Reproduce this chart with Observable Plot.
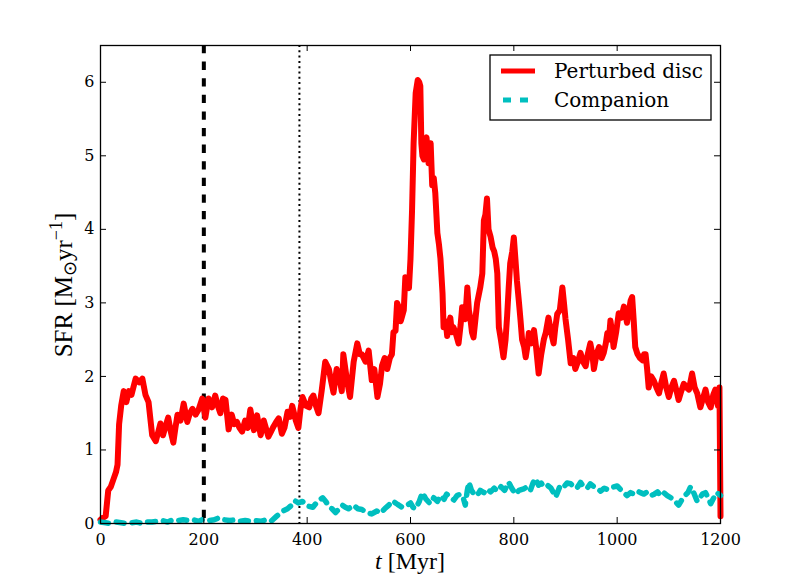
<!DOCTYPE html>
<html><head><meta charset="utf-8">
<script src="https://cdn.jsdelivr.net/npm/d3@7"></script>
<script src="https://cdn.jsdelivr.net/npm/@observablehq/plot@0.6"></script>
<style>body{margin:0;background:#fff} #chart{width:800px;height:585px}</style>
</head><body><div id="chart"></div>
<script>
// ---- data (t in Myr, SFR in Msun/yr) ----
const disc = [
[0,0.05],[5,0.08],[10,0.1],[15,0.45],[20,0.5],[25,0.6],[30,0.7],[33,0.8],[36,1.35],[40,1.6],
[45,1.8],[50,1.65],[55,1.8],[60,1.75],[68,1.97],[75,1.92],[81,1.97],[87,1.75],[93,1.65],[100,1.2],
[107,1.12],[112,1.25],[116,1.36],[121,1.2],[125,1.3],[131,1.44],[136,1.25],[141,1.1],[145,1.3],[149,1.48],
[155,1.4],[161,1.63],[168,1.38],[173,1.5],[178,1.56],[184,1.48],[190,1.55],[197,1.7],[203,1.44],[209,1.7],
[216,1.58],[222,1.74],[227,1.6],[232,1.5],[237,1.7],[242,1.68],[248,1.28],[254,1.48],[259,1.35],[264,1.38],
[269,1.3],[274,1.25],[280,1.4],[285,1.3],[290,1.55],[297,1.27],[303,1.47],[310,1.2],[316,1.4],[320,1.3],
[325,1.18],[330,1.25],[335,1.32],[340,1.38],[345,1.43],[351,1.22],[356,1.3],[362,1.52],[367,1.45],[371,1.6],
[378,1.4],[383,1.3],[387,1.55],[391,1.72],[398,1.6],[404,1.58],[408,1.7],[412,1.74],[417,1.6],[422,1.5],
[428,1.8],[435,2.2],[442,2.1],[446,1.95],[451,1.78],[457,2.1],[462,2.0],[467,1.8],[470,2.3],[477,1.95],
[483,1.72],[490,2.2],[497,2.45],[502,2.3],[506,2.3],[513,2.2],[519,2.35],[525,1.95],[530,2.1],[536,1.72],
[541,1.9],[545,2.15],[550,2.25],[555,2.1],[560,2.25],[564,2.3],[567,2.6],[571,2.62],[574,3.0],[577,2.95],
[581,2.75],[583,2.8],[587,2.9],[590,3.35],[594,3.3],[597,3.2],[600,3.6],[603,4.26],[606,5.17],[610,5.85],
[614,6.03],[617,6.0],[619,5.95],[621,5.17],[623,5.0],[626,4.95],[628,5.2],[631,5.25],[635,4.9],[639,5.17],
[642,4.6],[645,4.7],[648,4.49],[652,3.95],[655,3.8],[658,3.6],[662,3.13],[664,2.67],[668,2.75],[671,2.55],
[674,2.7],[677,2.8],[680,2.6],[683,2.67],[687,2.6],[693,2.45],[697,2.7],[700,2.94],[703,2.85],[706,2.78],
[710,3.21],[713,2.9],[716,2.78],[719,2.6],[722,2.53],[726,2.8],[729,3.0],[735,3.21],[739,3.4],[742,4.12],
[745,4.2],[748,4.42],[751,4.0],[755,3.9],[759,3.75],[762,3.7],[765,3.6],[768,3.4],[771,2.67],[775,2.5],
[780,2.26],[784,2.5],[787,2.82],[790,3.2],[793,3.54],[797,3.7],[800,3.89],[803,3.6],[806,3.3],[810,3.0],
[813,2.76],[816,2.5],[820,2.4],[823,2.26],[826,2.4],[829,2.59],[834,2.45],[839,2.63],[843,2.4],[848,2.04],
[853,2.3],[858,2.5],[862,2.6],[867,2.8],[872,2.6],[877,2.45],[880,2.65],[884,2.85],[889,2.9],[894,3.21],
[897,3.0],[900,2.78],[905,2.5],[910,2.18],[915,2.25],[919,2.1],[924,2.2],[929,2.32],[934,2.2],[939,2.14],
[943,2.3],[948,2.45],[952,2.3],[955,2.1],[960,2.3],[965,2.4],[970,2.25],[974,2.32],[978,2.45],[981,2.59],
[984,2.5],[987,2.76],[990,2.6],[993,2.4],[998,2.6],[1003,2.86],[1008,2.8],[1013,2.95],[1016,2.85],[1019,2.73],
[1023,2.9],[1026,3.03],[1029,3.08],[1032,2.76],[1035,2.4],[1039,2.31],[1044,2.25],[1049,2.22],[1052,2.3],[1055,2.3],
[1058,2.1],[1061,1.85],[1066,2.0],[1071,1.94],[1076,1.85],[1081,1.77],[1085,1.9],[1090,2.04],[1095,1.85],[1100,1.72],
[1105,1.85],[1110,1.94],[1115,1.8],[1119,1.68],[1124,1.8],[1129,1.9],[1134,1.85],[1139,1.82],[1145,2.04],[1150,1.85],
[1155,1.77],[1161,1.58],[1166,1.7],[1171,1.82],[1176,1.65],[1181,1.58],[1186,1.75],[1190,1.82],[1195,1.6],[1198,1.85],
[1200,0.1]
];
const companion = [
[0,0.02],[10,0.01],[20,0.0],[30,0.02],[40,0.01],[50,0.0],[60,0.01],[70,0.02],[80,0.0],[90,0.02],
[100,0.02],[110,0.03],[120,0.04],[130,0.02],[140,0.05],[150,0.04],[160,0.05],[170,0.04],[180,0.05],[190,0.03],
[200,0.06],[210,0.04],[220,0.05],[230,0.08],[240,0.05],[250,0.04],[260,0.05],[270,0.03],[280,0.04],[290,0.03],
[300,0.04],[310,0.03],[320,0.05],[330,0.03],[341,0.1],[353,0.17],[362,0.2],[370,0.25],[376,0.31],[383,0.28],
[391,0.3],[400,0.24],[411,0.22],[420,0.3],[430,0.35],[436,0.3],[442,0.23],[448,0.2],[455,0.15],[462,0.2],
[468,0.25],[474,0.22],[480,0.2],[490,0.25],[498,0.2],[506,0.19],[515,0.15],[525,0.13],[535,0.17],[542,0.14],
[550,0.2],[558,0.25],[565,0.31],[575,0.26],[584,0.22],[592,0.24],[600,0.28],[605,0.22],[610,0.2],[617,0.3],
[623,0.42],[630,0.33],[638,0.27],[645,0.35],[652,0.3],[658,0.38],[665,0.33],[670,0.4],[677,0.36],[684,0.32],
[690,0.38],[697,0.4],[702,0.35],[706,0.25],[710,0.45],[713,0.56],[718,0.45],[723,0.4],[729,0.38],[735,0.45],
[742,0.42],[748,0.47],[755,0.43],[762,0.48],[768,0.44],[775,0.5],[782,0.45],[790,0.56],[796,0.48],[803,0.4],
[810,0.45],[819,0.47],[826,0.5],[832,0.45],[837,0.55],[842,0.61],[848,0.52],[853,0.55],[858,0.5],[865,0.52],
[872,0.48],[881,0.36],[886,0.45],[890,0.52],[897,0.5],[903,0.55],[910,0.54],[916,0.5],[922,0.48],[929,0.56],
[935,0.5],[942,0.48],[948,0.54],[955,0.5],[962,0.47],[968,0.44],[975,0.48],[982,0.46],[990,0.49],[1000,0.51],
[1008,0.45],[1013,0.42],[1019,0.38],[1026,0.42],[1032,0.4],[1039,0.44],[1045,0.42],[1052,0.4],[1058,0.43],[1065,0.38],
[1072,0.4],[1078,0.43],[1084,0.38],[1090,0.42],[1097,0.38],[1104,0.35],[1110,0.32],[1115,0.28],[1119,0.25],[1125,0.32],
[1131,0.38],[1137,0.42],[1142,0.5],[1148,0.42],[1155,0.3],[1160,0.35],[1165,0.4],[1171,0.42],[1176,0.35],[1181,0.27],
[1187,0.35],[1192,0.42],[1197,0.4],[1200,0.38]
];
const xTicks = [0, 200, 400, 600, 800, 1000, 1200];
const yTicks = [0, 1, 2, 3, 4, 5, 6];
const dashedAt = [200];
const dottedAt = [385];
const seriesNames = ["Perturbed disc", "Companion"];
const seriesColors = ["#ff0000", "#00bfbf"];

// ---- chart ----
const W = 800, H = 585, ML = 100, MR = 80, MT = 45, MB = 62;
const innerW = W - ML - MR, innerH = H - MT - MB;
const discRows = disc.map(([t, sfr]) => ({t, sfr}));
const compRows = companion.map(([t, sfr]) => ({t, sfr}));
const fmt = d => String(d);

const svg = Plot.plot({
  width: W, height: H,
  marginLeft: ML, marginRight: MR, marginTop: MT, marginBottom: MB,
  style: {fontFamily: "'DejaVu Serif', serif", fontSize: "16px", background: "white", color: "black"},
  x: {domain: [0, 1200]},
  y: {domain: [0, 6.5]},
  marks: [
    Plot.ruleX(dashedAt, {x: d => d, stroke: "black", strokeWidth: 4, strokeDasharray: "8.3,8.3"}),
    Plot.ruleX(dottedAt, {x: d => d, stroke: "black", strokeWidth: 2, strokeDasharray: "2,3.3"}),
    Plot.line(discRows, {x: "t", y: "sfr", stroke: seriesColors[0], strokeWidth: 6, strokeLinejoin: "round"}),
    Plot.line(compRows, {x: "t", y: "sfr", stroke: seriesColors[1], strokeWidth: 5.5, strokeDasharray: "8,8"}),
    Plot.tickX(xTicks, {x: d => d, insetTop: innerH - 6, stroke: "black"}),
    Plot.tickX(xTicks, {x: d => d, insetBottom: innerH - 6, stroke: "black"}),
    Plot.tickY(yTicks, {y: d => d, insetRight: innerW - 6, stroke: "black"}),
    Plot.tickY(yTicks, {y: d => d, insetLeft: innerW - 6, stroke: "black"}),
    Plot.axisX({ticks: xTicks, tickSize: 0, tickPadding: 10, label: null, fontSize: 16, tickFormat: fmt}),
    Plot.axisY({ticks: yTicks, tickSize: 0, tickPadding: 6, label: null, fontSize: 16, tickFormat: fmt}),
    Plot.frame({stroke: "black", strokeWidth: 1.3})
  ]
});
document.getElementById("chart").appendChild(svg);

const s = d3.select(svg);
// x label
const xl = s.append("text").attr("x", 410).attr("y", 569).attr("text-anchor", "middle")
  .attr("font-family", "'Liberation Serif', serif").attr("font-size", 24).attr("fill", "black");
xl.append("tspan").attr("font-style", "italic").text("t");
xl.append("tspan").text(" [Myr]");
// y label
const yl = s.append("text").attr("transform", "translate(72,285) rotate(-90)").attr("text-anchor", "middle")
  .attr("font-family", "'Liberation Serif', serif").attr("font-size", 25).attr("fill", "black");
yl.append("tspan").text("SFR [M");
yl.append("tspan").attr("dy", 4).attr("font-size", 18).text("⊙");
yl.append("tspan").attr("dy", -4).text("yr");
yl.append("tspan").attr("dy", -10).attr("font-size", 18).text("−1");
yl.append("tspan").attr("dy", 10).text("]");
// legend
const lg = s.append("g");
lg.append("rect").attr("x", 490).attr("y", 55).attr("width", 221).attr("height", 65)
  .attr("fill", "white").attr("stroke", "black").attr("stroke-width", 1.3);
lg.append("line").attr("x1", 501).attr("x2", 535).attr("y1", 71).attr("y2", 71)
  .attr("stroke", seriesColors[0]).attr("stroke-width", 5);
lg.append("line").attr("x1", 503).attr("x2", 529).attr("y1", 100).attr("y2", 100)
  .attr("stroke", seriesColors[1]).attr("stroke-width", 5).attr("stroke-dasharray", "8,9");
lg.append("text").attr("x", 554).attr("y", 78).attr("text-anchor", "start").attr("font-size", 20).attr("fill", "black").text(seriesNames[0]);
lg.append("text").attr("x", 554).attr("y", 107).attr("text-anchor", "start").attr("font-size", 20).attr("fill", "black").text(seriesNames[1]);
</script>
</body></html>
